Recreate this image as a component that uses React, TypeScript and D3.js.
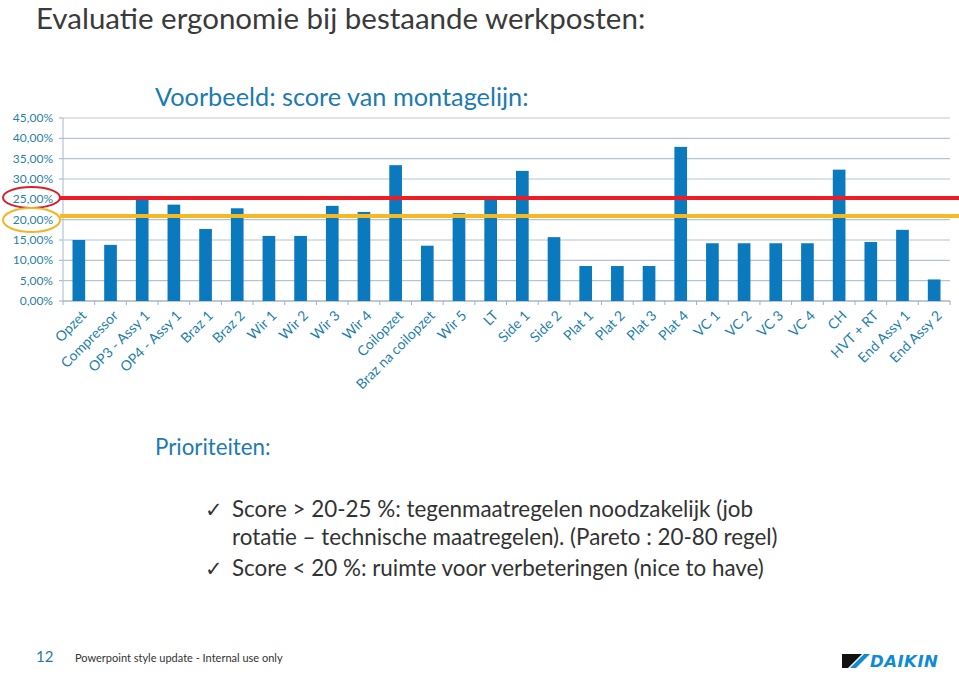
import React from "react";
import * as d3 from "d3";

const categories = ["Opzet","Compressor","OP3 - Assy 1","OP4 - Assy 1","Braz 1","Braz 2","Wir 1","Wir 2","Wir 3","Wir 4","Coilopzet","Braz na coilopzet","Wir 5","LT","Side 1","Side 2","Plat 1","Plat 2","Plat 3","Plat 4","VC 1","VC 2","VC 3","VC 4","CH","HVT + RT","End Assy 1","End Assy 2"];
const scores = [15.0,13.8,25.2,23.7,17.7,22.8,16.0,16.0,23.4,21.9,33.4,13.6,21.6,25.0,32.0,15.7,8.6,8.6,8.6,37.9,14.2,14.2,14.2,14.2,32.3,14.5,17.5,5.3];
const yTicks = [0,5,10,15,20,25,30,35,40,45];
const redLevel = 25.3;
const yellowLevel = 20.9;
const bullets = [
  ["Score > 20-25 %: tegenmaatregelen noodzakelijk (job", "rotatie – technische maatregelen). (Pareto : 20-80 regel)"],
  ["Score < 20 %: ruimte voor verbeteringen (nice to have)"],
];

const W = 959, H = 676;
const left = 63, right = 950, top = 118, bottom = 301;

export default function App() {
  const x = d3.scaleBand<string>().domain(categories).range([left, right]).paddingInner(0.6).paddingOuter(0.3);
  const xb = d3.scaleBand<string>().domain(categories).range([left, right]);
  const y = d3.scaleLinear().domain([0, 45]).range([bottom, top]);
  const fmt = (v: number) => v.toFixed(2).replace(".", ",") + "%";
  const font = "Lato, 'Open Sans', sans-serif";
  const blue = "#1c7bb0";
  return (
    <svg width={W} height={H} style={{ position: "absolute", left: 0, top: 0, background: "#fff" }} fontFamily={font}>
      <text x={36} y={29} fontSize={29.5} fill="#3a3a3a">Evaluatie ergonomie bij bestaande werkposten:</text>
      <text x={155} y={106} fontSize={25.3} fill={blue}>Voorbeeld: score van montagelijn:</text>
      {yTicks.map((t) => (
        <g key={t}>
          <line x1={left} x2={right} y1={y(t)} y2={y(t)} stroke={t === 45 ? "#c2c8cf" : "#b3c4d6"} strokeWidth={1.2} />
          <line x1={left - 4} x2={left} y1={y(t)} y2={y(t)} stroke="#9fb0c2" />
          <text x={53} y={y(t) + 4} fontSize={12} fill="#2a7fa8" textAnchor="end">{fmt(t)}</text>
        </g>
      ))}
      <line x1={left} x2={left} y1={top} y2={bottom} stroke="#b3c4d6" strokeWidth={1.2} />
      <line x1={left} x2={right} y1={bottom} y2={bottom} stroke="#9fb0c2" strokeWidth={1.2} />
      {categories.map((c, i) => (
        <line key={"t" + i} x1={xb(c)!} x2={xb(c)!} y1={bottom} y2={bottom + 4} stroke="#9fb0c2" />
      ))}
      <line x1={right} x2={right} y1={bottom} y2={bottom + 4} stroke="#9fb0c2" />
      {categories.map((c, i) => (
        <rect key={c} x={x(c)!} width={x.bandwidth()} y={y(scores[i])} height={bottom - y(scores[i])} fill="#0a79bd" />
      ))}
      {categories.map((c) => {
        const cx = xb(c)! + xb.bandwidth() / 2 + 5;
        return (
          <text key={"l" + c} transform={`translate(${cx},${bottom + 12}) rotate(-45)`} fontSize={14} fill="#1f7fab" textAnchor="end" dy="0.35em">{c}</text>
        );
      })}
      <line x1={60} x2={W} y1={y(redLevel)} y2={y(redLevel)} stroke="#ee1d23" strokeWidth={4} />
      <line x1={60} x2={W} y1={y(yellowLevel)} y2={y(yellowLevel)} stroke="#f6b922" strokeWidth={4} />
      <ellipse cx={31.5} cy={197.5} rx={28.5} ry={10.5} fill="none" stroke="#d6202a" strokeWidth={2} />
      <ellipse cx={31.5} cy={220} rx={28.5} ry={12} fill="none" stroke="#f2b628" strokeWidth={2} />
      <text x={155} y={455} fontSize={22.3} fill={blue}>Prioriteiten:</text>
      {(() => {
        let row = 0;
        return bullets.map((b, i) => b.map((line, j) => {
          const yy = 517 + (row++) * 28 + (i > 0 ? 3 : 0);
          return (
            <g key={i + "-" + j}>
              {j === 0 && <text x={205} y={yy} fontSize={21} fill="#333">✓</text>}
              <text x={232} y={yy} fontSize={22.4} fill="#333">{line}</text>
            </g>
          );
        }));
      })()}
      <text x={36} y={662} fontSize={15} fill={blue}>12</text>
      <text x={75} y={662} fontSize={11} fill="#333">Powerpoint style update - Internal use only</text>
      <g>
        <polygon points="842,654 862,654 848,668 842,668" fill="#111" />
        <polygon points="864,654 870,654 856,668 850,668" fill="#0f8bd6" />
        <text x={870} y={667} fontSize={16.5} fontWeight={900} fontStyle="italic" fill="#0f8bd6" fontFamily="'DejaVu Sans', sans-serif" letterSpacing={0.5}>DAIKIN</text>
      </g>
    </svg>
  );
}
